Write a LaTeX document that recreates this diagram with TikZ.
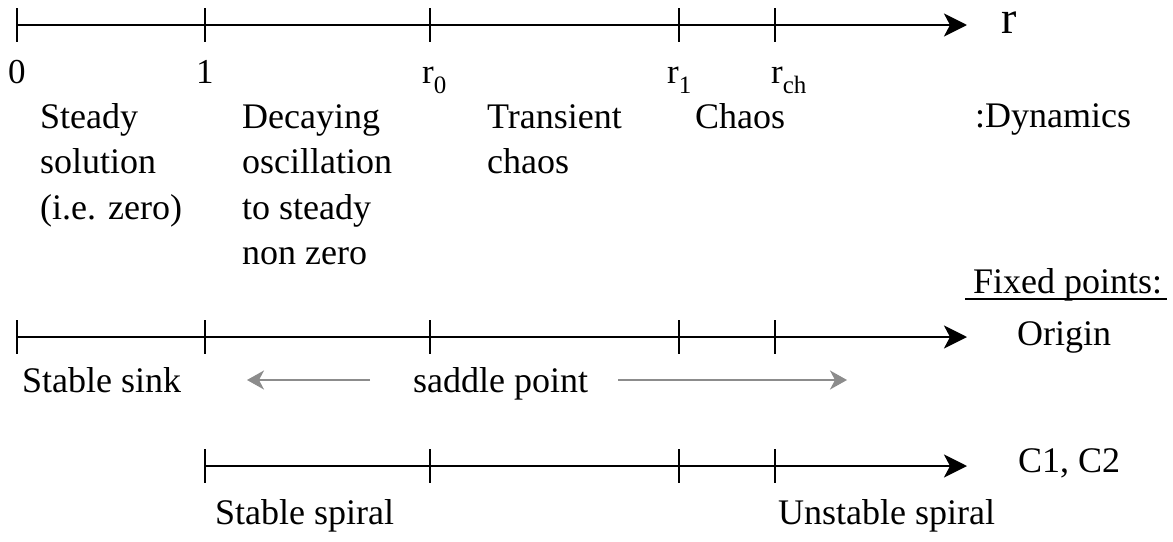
\documentclass[tikz,border=0pt]{standalone}
\usepackage{fontspec}
\setmainfont{Liberation Serif}
\usetikzlibrary{arrows.meta}
\definecolor{arrgray}{HTML}{8C8C8C}
\newcommand{\bigtxt}{\fontsize{36}{45.5}\selectfont}
\newcommand{\ticktxt}{\fontsize{35}{38}\selectfont}
\newcommand{\subtxt}[1]{\raisebox{-10pt}{\fontsize{25}{25}\selectfont #1}}
\tikzset{
  axisline/.style={line width=2.8pt,-{Stealth[length=23pt,width=23pt,inset=6pt]}},
  tickmark/.style={line width=1.4pt},
  grayarrow/.style={arrgray,line width=1.5pt,-{Stealth[length=17pt,width=19pt,inset=5pt]}},
  lbl/.style={anchor=base west,inner sep=0pt,font=\bigtxt,align=left},
  tlbl/.style={anchor=base west,inner sep=0pt,font=\ticktxt},
}
\begin{document}
\begin{tikzpicture}[x=1pt,y=-1pt]
\useasboundingbox (0,0) rectangle (1173,541);
% axis 1
\coordinate (a1s) at (17,25);
\coordinate (a1e) at (967,25);
\draw[axisline] (a1s) -- (a1e);
\foreach \x in {17,205,430,679,775} \draw[tickmark] (\x,8) -- (\x,42);
% axis 2
\coordinate (a2s) at (17,337);
\coordinate (a2e) at (967,337);
\draw[axisline] (a2s) -- (a2e);
\foreach \x in {17,205,430,679,775} \draw[tickmark] (\x,320) -- (\x,354);
% axis 3
\coordinate (a3s) at (205,466);
\coordinate (a3e) at (967,466);
\draw[axisline] (a3s) -- (a3e);
\foreach \x in {205,430,679,775} \draw[tickmark] (\x,449) -- (\x,483);
% tick labels
\node[tlbl] (l0) at (8,83) {0};
\node[tlbl] (l1) at (196,83) {1};
\node[tlbl] (lr0) at (422,83) {r\subtxt{0}};
\node[tlbl] (lr1) at (667,83) {r\subtxt{1}};
\node[tlbl] (lrch) at (771,83) {r\subtxt{ch}};
\node[anchor=base west,inner sep=0pt,text height=24pt,font=\fontsize{46}{46}\selectfont] (rlab) at (1001,33) {r};
% dynamics (anchor = baseline of last line)
\node[lbl] (steady) at (40,219) {Steady\\solution\\(i.e. zero)};
\node[lbl] (decay) at (242,264.5) {Decaying\\oscillation\\to steady\\non zero};
\node[lbl] (trans) at (487,173.5) {Transient\\chaos};
\node[lbl] (chaos) at (695,128) {Chaos};
\node[lbl] (dyn) at (975,127) {:Dynamics};
% fixed points
\node[lbl] (fixed) at (973,293) {Fixed points:};
\coordinate (ul1) at (965,299);
\coordinate (ul2) at (1167,299);
\draw[line width=1.6pt] (ul1) -- (ul2);
\node[lbl] (origin) at (1017,345) {Origin};
\node[lbl] (sink) at (22,392) {Stable sink};
\node[lbl] (saddle) at (413,392) {saddle point};
\coordinate (gl1) at (370,380);
\coordinate (gl2) at (247,380);
\coordinate (gr1) at (618,380);
\coordinate (gr2) at (847,380);
\draw[grayarrow] (gl1) -- (gl2);
\draw[grayarrow] (gr1) -- (gr2);
\node[lbl] (c12) at (1018,472) {C1, C2};
\node[lbl] (sspiral) at (215,524) {Stable spiral};
\node[lbl] (uspiral) at (778,524) {Unstable spiral};
\end{tikzpicture}
\end{document}
